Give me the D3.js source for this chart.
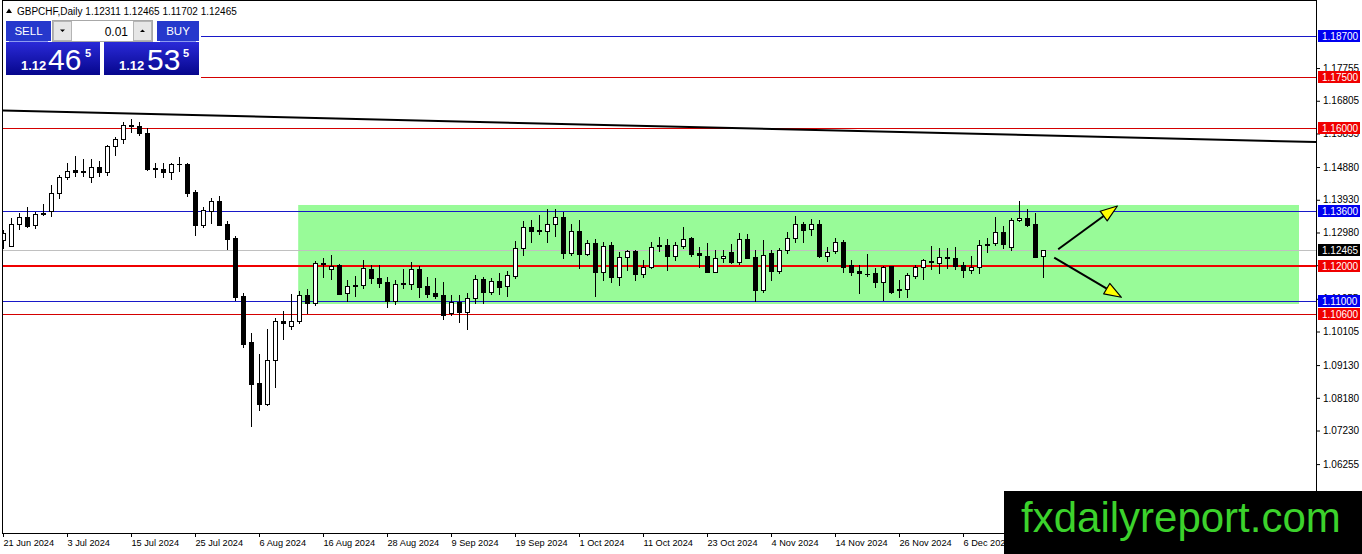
<!DOCTYPE html>
<html><head><meta charset="utf-8">
<script src="https://cdn.jsdelivr.net/npm/d3@7/dist/d3.min.js"></script>
<style>
html,body{margin:0;padding:0;background:#fff;overflow:hidden}
svg{display:block;font-family:"Liberation Sans",Arial,sans-serif}
</style></head><body>
<svg id="c" width="1362" height="554"></svg>
<script>
// ---- data (GBPCHF daily) ----
const opens=[1.12762,1.12597,1.13218,1.13421,1.13189,1.13555,1.13604,1.14118,1.14583,1.14795,
1.14766,1.14583,1.14873,1.14728,1.15501,1.15686,1.16072,1.16072,1.15878,1.14853,
1.14824,1.14728,1.14960,1.14970,1.14156,1.13207,1.13604,1.13895,1.13227,1.12829,
1.11136,1.09792,1.08601,1.07992,1.09278,1.10411,1.10274,1.10411,1.11166,1.10924,
1.12086,1.11920,1.12037,1.11215,1.11427,1.11456,1.11920,1.11650,1.11534,1.11000,
1.11514,1.11494,1.11920,1.11427,1.11215,1.11166,1.10634,1.10971,1.10681,1.11069,
1.11630,1.11244,1.11572,1.11427,1.11726,1.12521,1.13130,1.13053,1.13033,1.13218,
1.13421,1.12394,1.13024,1.12365,1.12666,1.11824,1.12617,1.11688,1.12260,1.12443,
1.11766,1.11978,1.12578,1.12617,1.12307,1.12588,1.12829,1.12394,1.12298,1.11842,
1.12231,1.12414,1.12133,1.12791,1.12260,1.11311,1.12394,1.11862,1.12463,1.12811,
1.13218,1.13073,1.13218,1.12307,1.12452,1.12695,1.12037,1.11862,1.11784,1.11795,
1.11552,1.12007,1.11331,1.11331,1.11726,1.11969,1.12114,1.12104,1.12249,1.12249,
1.12037,1.11891,1.11969,1.12617,1.12666,1.12986,1.12568,1.13334,1.13392,1.13218,
1.12311];
const highs=[1.13053,1.13392,1.13537,1.13711,1.13584,1.13799,1.14360,1.14650,1.14989,1.15202,
1.15105,1.15105,1.15056,1.15521,1.15762,1.16198,1.16267,1.16198,1.16005,1.15007,
1.14989,1.15007,1.15163,1.15007,1.14214,1.13711,1.13973,1.14040,1.13323,1.12878,
1.11215,1.10053,1.09452,1.10169,1.10489,1.10710,1.11195,1.11291,1.11331,1.12162,
1.12249,1.12327,1.12057,1.11601,1.11717,1.12182,1.12037,1.12037,1.11697,1.11601,
1.11920,1.12133,1.12016,1.11697,1.11668,1.11534,1.11166,1.11166,1.11215,1.11746,
1.11697,1.11668,1.11795,1.11862,1.12733,1.13314,1.13343,1.13488,1.13662,1.13662,
1.13584,1.13218,1.13343,1.12762,1.12791,1.12695,1.12713,1.12405,1.12472,1.12472,
1.12182,1.12695,1.12858,1.12791,1.12713,1.13131,1.12858,1.12568,1.12666,1.12472,
1.12472,1.12637,1.12957,1.12928,1.12472,1.12762,1.12472,1.12521,1.12986,1.13459,
1.13276,1.13372,1.13343,1.12568,1.12811,1.12762,1.12182,1.12037,1.12347,1.11958,
1.12016,1.12016,1.11601,1.11795,1.12037,1.12202,1.12588,1.12521,1.12521,1.12568,
1.12133,1.12307,1.12762,1.12811,1.13440,1.13178,1.13410,1.13895,1.13662,1.13537,
1.12465];
const lows=[1.12530,1.12590,1.13073,1.13149,1.13120,1.13488,1.13459,1.13991,1.14534,1.14630,
1.14630,1.14438,1.14630,1.14650,1.15231,1.15570,1.15907,1.15811,1.14795,1.14601,
1.14583,1.14534,1.14775,1.14049,1.12908,1.13149,1.13265,1.13198,1.12501,1.11020,
1.09665,1.07362,1.07826,1.07972,1.08503,1.09879,1.10169,1.10344,1.10634,1.10875,
1.11697,1.11630,1.11195,1.10991,1.11146,1.11360,1.11505,1.11407,1.10826,1.10896,
1.11378,1.11340,1.11116,1.11116,1.11069,1.10469,1.10585,1.10391,1.10178,1.10924,
1.10924,1.11186,1.11186,1.11136,1.11650,1.12327,1.12713,1.12928,1.12713,1.12887,
1.12231,1.12327,1.11958,1.12327,1.11146,1.11601,1.11534,1.11456,1.11891,1.11601,
1.11697,1.11958,1.12443,1.11891,1.12182,1.12521,1.12307,1.11987,1.11832,1.11824,
1.12133,1.12086,1.12057,1.12231,1.10991,1.11262,1.11601,1.11795,1.12376,1.12713,
1.12713,1.12908,1.12269,1.12153,1.12376,1.11842,1.11746,1.11215,1.11717,1.11407,
1.11020,1.11215,1.11116,1.11116,1.11668,1.11630,1.11920,1.11813,1.11940,1.11920,
1.11697,1.11795,1.11813,1.12405,1.12617,1.12539,1.12472,1.13314,1.13178,1.12260,
1.11702];
const closes=[1.12966,1.13218,1.13421,1.13169,1.13508,1.13508,1.14118,1.14583,1.14775,1.14746,
1.14737,1.14873,1.14728,1.15501,1.15686,1.16102,1.16093,1.15860,1.14824,1.14815,
1.14728,1.14960,1.14970,1.14136,1.13207,1.13633,1.13895,1.13207,1.12782,1.11116,
1.09743,1.08590,1.07992,1.09278,1.10420,1.10344,1.10411,1.11166,1.10924,1.12086,
1.12057,1.12016,1.11204,1.11427,1.11456,1.11940,1.11650,1.11523,1.11000,1.11476,
1.11476,1.11920,1.11407,1.11204,1.11146,1.10585,1.10953,1.10681,1.11069,1.11621,
1.11262,1.11572,1.11407,1.11746,1.12521,1.13149,1.13033,1.13024,1.13218,1.13421,
1.12394,1.13024,1.12365,1.12666,1.11842,1.12597,1.11697,1.12260,1.12443,1.11766,
1.11978,1.12568,1.12617,1.12307,1.12617,1.12791,1.12356,1.12318,1.11842,1.12231,
1.12298,1.12133,1.12782,1.12249,1.11311,1.12318,1.11862,1.12472,1.12811,1.13218,
1.13062,1.13218,1.12298,1.12423,1.12695,1.11987,1.11842,1.11795,1.11766,1.11552,
1.11987,1.11262,1.11311,1.11746,1.11969,1.12173,1.12162,1.12260,1.12278,1.12007,
1.11891,1.11969,1.12617,1.12646,1.12986,1.12637,1.13343,1.13392,1.13198,1.12278,
1.12465];
const dateLabels=["21 Jun 2024","3 Jul 2024","15 Jul 2024","25 Jul 2024","6 Aug 2024","16 Aug 2024",
"28 Aug 2024","9 Sep 2024","19 Sep 2024","1 Oct 2024","11 Oct 2024","23 Oct 2024","4 Nov 2024",
"14 Nov 2024","26 Nov 2024","6 Dec 2024"];
const dateLabelBars=[0,8,16,24,32,40,48,56,64,72,80,88,96,104,112,120];
const priceTicks=[1.17755,1.16805,1.15855,1.14880,1.13930,1.12980,1.12030,1.11055,1.10105,1.09130,1.08180,1.07230,1.06255];
const levelPrices=[1.18700,1.17500,1.16000,1.13600,1.12000,1.11000,1.10600];
const levelKinds=["blue","red","red","blue","redBold","blue","red"];
const bidPrice=1.12465;
const trendBars=[-0.375,164.125];
const trendPrices=[1.16523,1.15608];
const zoneBars=[36.9,162];
const zonePrices=[1.13779,1.10904];
const arrowFromBars=[131.9,131.4];
const arrowFromPrices=[1.12492,1.12248];
const arrowToBars=[139.3,139.8];
const arrowToPrices=[1.13749,1.11099];
const headerText="GBPCHF,Daily 1.12311 1.12465 1.11702 1.12465";

// ---- drawing ----
const svg=d3.select("#c");
const plotL=3, plotR=1316, plotT=1, plotB=533;
const x=d3.scaleLinear().domain([0,130]).range([3,1043]);
const y=d3.scaleLinear().domain([1.187,1.06255]).range([35.5,464.1]);
const lineColor={blue:"#1818c8",red:"#d40000",redBold:"#f00000"};
const boxColor={blue:"#0000f0",red:"#f00000",redBold:"#f00000"};

const defs=svg.append("defs");
defs.append("clipPath").attr("id","plot").append("rect")
  .attr("x",plotL).attr("y",plotT).attr("width",plotR-plotL).attr("height",plotB-plotT);
const gr=defs.append("linearGradient").attr("id","pbox").attr("x1",0).attr("y1",0).attr("x2",0).attr("y2",1);
gr.append("stop").attr("offset","0%").attr("stop-color","#2a2ad8");
gr.append("stop").attr("offset","100%").attr("stop-color","#06068c");

const plot=svg.append("g").attr("clip-path","url(#plot)");

// zone
plot.append("rect")
  .attr("x",x(zoneBars[0])).attr("y",y(zonePrices[0]))
  .attr("width",x(zoneBars[1])-x(zoneBars[0])).attr("height",y(zonePrices[1])-y(zonePrices[0]))
  .attr("fill","#98fb98");

// bid line
plot.append("line").attr("x1",plotL).attr("x2",plotR)
  .attr("y1",Math.round(y(bidPrice))+0.5).attr("y2",Math.round(y(bidPrice))+0.5)
  .attr("stroke","#c0c0c0").attr("stroke-width",1).attr("shape-rendering","crispEdges");

// levels
levelPrices.forEach((p,i)=>{
  const k=levelKinds[i];
  const yy=k==="redBold"?Math.round(y(p)):Math.round(y(p))+0.5;
  plot.append("line").attr("x1",plotL).attr("x2",plotR).attr("y1",yy).attr("y2",yy)
    .attr("stroke",lineColor[k]).attr("stroke-width",k==="redBold"?2:1).attr("shape-rendering","crispEdges");
});

// trend line
plot.append("line")
  .attr("x1",x(trendBars[0])).attr("y1",y(trendPrices[0]))
  .attr("x2",x(trendBars[1])).attr("y2",y(trendPrices[1]))
  .attr("stroke","#000").attr("stroke-width",2);

// candles
const bars=d3.range(opens.length).map(i=>({i,o:opens[i],h:highs[i],l:lows[i],c:closes[i]}));
const cg=plot.append("g").attr("shape-rendering","crispEdges");
bars.forEach(b=>{
  const cx=Math.round(x(b.i));
  cg.append("line").attr("x1",cx+0.5).attr("x2",cx+0.5)
    .attr("y1",Math.round(y(b.h))).attr("y2",Math.round(y(b.l))+1)
    .attr("stroke","#000").attr("stroke-width",1);
  const top=Math.round(y(Math.max(b.o,b.c))), bot=Math.round(y(Math.min(b.o,b.c)));
  if(bot-top<1){
    cg.append("line").attr("x1",cx-2).attr("x2",cx+3).attr("y1",top+0.5).attr("y2",top+0.5)
      .attr("stroke","#000").attr("stroke-width",1);
  } else {
    cg.append("rect").attr("x",cx-1.5).attr("y",top+0.5).attr("width",4).attr("height",bot-top)
      .attr("fill",b.c>=b.o?"#fff":"#000").attr("stroke","#000").attr("stroke-width",1);
  }
});

// arrows
arrowFromBars.forEach((b0,i)=>{
  const x0=x(b0), y0=y(arrowFromPrices[i]), x1=x(arrowToBars[i]), y1=y(arrowToPrices[i]);
  const len=Math.hypot(x1-x0,y1-y0), ux=(x1-x0)/len, uy=(y1-y0)/len;
  const bx=x1-17*ux, by=y1-17*uy, nx=-uy, ny=ux;
  plot.append("line").attr("x1",x0).attr("y1",y0).attr("x2",bx).attr("y2",by)
    .attr("stroke","#000").attr("stroke-width",2);
  plot.append("polygon")
    .attr("points",[[x1,y1],[bx+6*nx,by+6*ny],[bx-6*nx,by-6*ny]].map(p=>p.join(",")).join(" "))
    .attr("fill","#ffff00").attr("stroke","#000").attr("stroke-width",1.2).attr("stroke-linejoin","round");
});

// frame
const fr=svg.append("g").attr("shape-rendering","crispEdges").attr("stroke","#000");
fr.append("line").attr("x1",2.5).attr("x2",2.5).attr("y1",0).attr("y2",plotB+1);
fr.append("line").attr("x1",2).attr("x2",plotR+1).attr("y1",0.5).attr("y2",0.5);
fr.append("line").attr("x1",plotR+0.5).attr("x2",plotR+0.5).attr("y1",0).attr("y2",plotB+1);
fr.append("line").attr("x1",2).attr("x2",plotR+1).attr("y1",plotB+0.5).attr("y2",plotB+0.5);

// price axis
const yAxis=d3.axisRight(y).tickValues(priceTicks).tickSize(4).tickPadding(3).tickFormat(d=>d.toFixed(5));
const gy=svg.append("g").attr("transform",`translate(${plotR},0)`).call(yAxis);
gy.select(".domain").remove();
gy.attr("font-family","'Liberation Sans',Arial,sans-serif").attr("font-size",10);
gy.selectAll("text").attr("fill","#000");

// date axis
const xAxis=d3.axisBottom(x).tickValues(dateLabelBars).tickFormat((d,i)=>dateLabels[i]).tickSize(4).tickPadding(2);
const gx=svg.append("g").attr("transform",`translate(0,${plotB})`).call(xAxis);
gx.select(".domain").remove();
gx.attr("font-family","'Liberation Sans',Arial,sans-serif").attr("font-size",9.2);
gx.selectAll("text").attr("text-anchor","start").attr("x",0).attr("fill","#000");

// level labels
const lab=svg.append("g").attr("font-size",10);
function priceBox(p,color){
  const yy=Math.round(y(p));
  lab.append("rect").attr("x",plotR+2).attr("y",yy-6).attr("width",42).attr("height",12).attr("fill",color);
  lab.append("text").attr("x",plotR+6).attr("y",yy).attr("dy","0.36em").attr("fill","#fff").text(p.toFixed(5));
}
levelPrices.forEach((p,i)=>priceBox(p,boxColor[levelKinds[i]]));
priceBox(bidPrice,"#000");

// header + one-click panel
svg.append("polygon").attr("points","6,13 9,8.5 12,13").attr("fill","#000");
svg.append("text").attr("x",17).attr("y",14.5).attr("font-size",10).attr("fill","#000").text(headerText);
const pn=svg.append("g");
pn.append("rect").attr("x",3).attr("y",17).attr("width",198).attr("height",61).attr("fill","#fff");
pn.append("rect").attr("x",6).attr("y",21).attr("width",45).attr("height",20).attr("fill","#2638cc");
pn.append("rect").attr("x",157).attr("y",21).attr("width",42).attr("height",20).attr("fill","#2638cc");
pn.append("line").attr("x1",9).attr("x2",48).attr("y1",41.5).attr("y2",41.5).attr("stroke","#8c9af0");
pn.append("line").attr("x1",160).attr("x2",196).attr("y1",41.5).attr("y2",41.5).attr("stroke","#8c9af0");
pn.append("text").attr("x",28.5).attr("y",35).attr("text-anchor","middle").attr("font-size",11.5).attr("fill","#fff").text("SELL");
pn.append("text").attr("x",178).attr("y",35).attr("text-anchor","middle").attr("font-size",11.5).attr("fill","#fff").text("BUY");
pn.append("rect").attr("x",52.5).attr("y",20.5).attr("width",100).attr("height",21).attr("fill","#fff").attr("stroke","#a8a8a8");
pn.append("rect").attr("x",53.5).attr("y",21.5).attr("width",18).attr("height",19).attr("fill","#e6e6e6").attr("stroke","#b4b4b4");
pn.append("rect").attr("x",133.5).attr("y",21.5).attr("width",18).attr("height",19).attr("fill","#e6e6e6").attr("stroke","#b4b4b4");
pn.append("polygon").attr("points","60,29.5 65,29.5 62.5,32").attr("fill","#000");
pn.append("polygon").attr("points","140,32 145,32 142.5,29.5").attr("fill","#000");
pn.append("text").attr("x",128).attr("y",35.5).attr("text-anchor","end").attr("font-size",12).attr("fill","#000").text("0.01");
pn.append("rect").attr("x",6).attr("y",42).attr("width",94).attr("height",33).attr("fill","url(#pbox)");
pn.append("rect").attr("x",104).attr("y",42).attr("width",95).attr("height",33).attr("fill","url(#pbox)");
[[21,48,85,"1.12","46","5"],[119,147,183,"1.12","53","5"]].forEach(a=>{
  pn.append("text").attr("x",a[0]).attr("y",70).attr("font-size",13).attr("font-weight","bold").attr("fill","#fff").text(a[3]);
  pn.append("text").attr("x",a[1]).attr("y",70).attr("font-size",30).attr("fill","#fff").text(a[4]);
  pn.append("text").attr("x",a[2]).attr("y",57).attr("font-size",11).attr("font-weight","bold").attr("fill","#fff").text(a[5]);
});

// watermark
svg.append("rect").attr("x",1004).attr("y",491).attr("width",358).attr("height",63).attr("fill","#000");
svg.append("text").attr("x",1021).attr("y",532).attr("font-size",42).attr("fill","#3cd22c").text("fxdailyreport.com");
</script>
</body></html>
